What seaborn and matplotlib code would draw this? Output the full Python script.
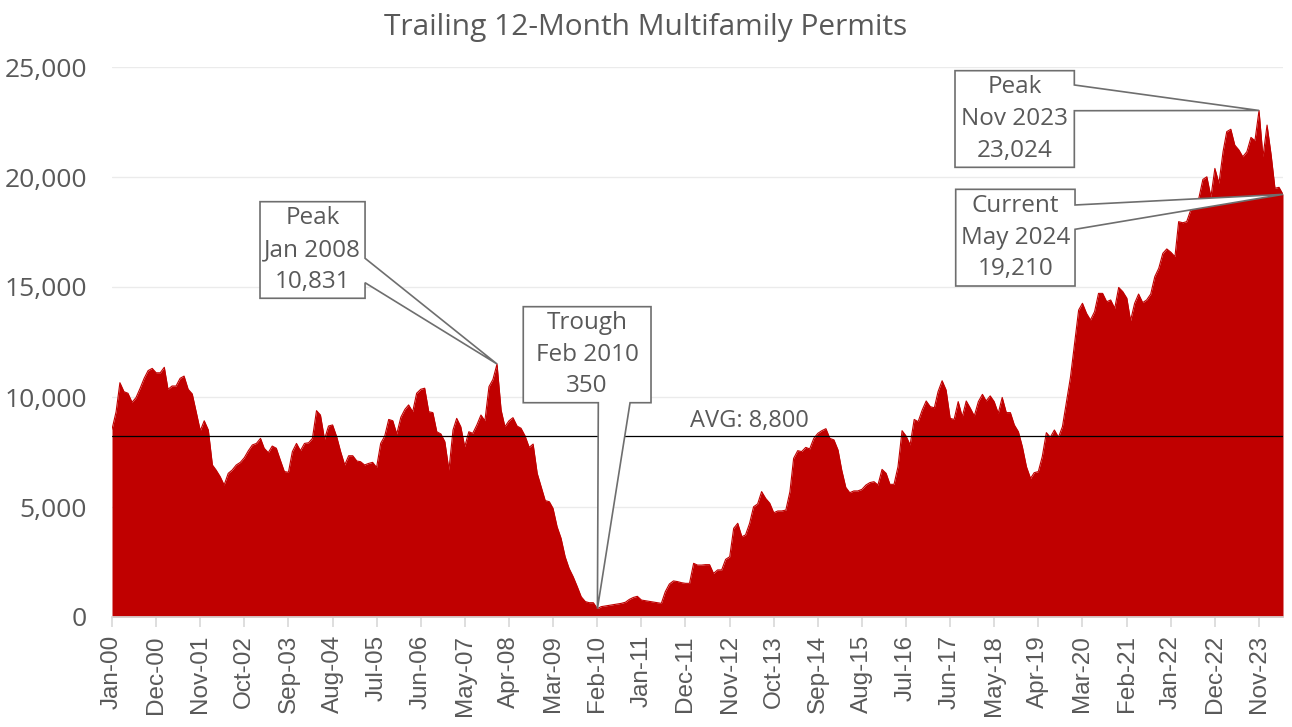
import pandas as pd
import numpy as np
import matplotlib.pyplot as plt
import matplotlib.dates as mdates
from matplotlib.patches import Polygon
import seaborn as sns

# monthly trailing 12-month multifamily permits, Jan 2000 - May 2024
permits = [
    8530, 9330, 10650, 10240, 10170, 9760, 9970, 10390, 10850, 11200, 11300, 11100,
    11100, 11350, 10350, 10500, 10500, 10850, 10950, 10350, 10140, 9330, 8470, 8920,
    8500, 6910, 6680, 6380, 6000, 6530, 6680, 6910, 7030, 7240, 7560, 7820,
    7890, 8120, 7670, 7470, 7770, 7670, 7140, 6610, 6580, 7520, 7890, 7560,
    7890, 7920, 8120, 9380, 9180, 8080, 8680, 8730, 8200, 7520, 6910, 7330,
    7330, 7090, 7060, 6910, 6980, 7030, 6800, 7890, 8230, 8980, 8920, 8320,
    9080, 9440, 9640, 9330, 10170, 10350, 10400, 9330, 9290, 8420, 8320, 7970,
    6680, 8500, 9030, 8650, 7740, 8420, 8350, 8730, 9180, 8920, 10470, 10800,
    11500, 9410, 8650, 8920, 9060, 8680, 8580, 8230, 7710, 7860, 6530, 5920,
    5290, 5240, 4940, 4100, 3580, 2740, 2210, 1830, 1380, 920, 700, 650,
    650, 380, 470, 500, 530, 560, 590, 620, 670, 800, 890, 940,
    770, 740, 710, 680, 650, 620, 1150, 1500, 1640, 1610, 1560, 1530,
    1530, 2440, 2360, 2360, 2380, 2380, 1980, 2140, 2140, 2620, 2740, 4030,
    4260, 3650, 3730, 4260, 5010, 5140, 5700, 5390, 5170, 4740, 4820, 4820,
    4860, 5700, 7210, 7560, 7520, 7710, 7640, 8120, 8350, 8470, 8560, 8120,
    8050, 7590, 6680, 5890, 5650, 5730, 5730, 5800, 6000, 6110, 6150, 6000,
    6710, 6530, 6030, 6030, 6830, 8470, 8230, 7820, 8980, 8880, 9410, 9820,
    9560, 9510, 10240, 10740, 10320, 9030, 8980, 9790, 9100, 9820, 9490, 9140,
    9790, 10120, 9820, 10050, 9790, 9260, 9980, 9290, 9290, 8730, 8420, 7740,
    6830, 6300, 6560, 6610, 7290, 8380, 8170, 8500, 8170, 8650, 9790, 10900,
    12440, 13950, 14260, 13800, 13500, 13880, 14710, 14710, 14330, 14410, 14030, 14980,
    14790, 14490, 13470, 14260, 14680, 14290, 14410, 14680, 15470, 15850, 16530, 16730,
    16580, 16380, 17970, 17920, 17970, 18500, 18650, 19030, 19890, 20010, 19100, 20390,
    19710, 21150, 22060, 22170, 21450, 21230, 20920, 21150, 21800, 21650, 23024, 20920,
    22360, 21000, 19490, 19530, 19210,
]
months = pd.date_range('2000-01-01', periods=len(permits), freq='MS')

avg_line = 8230          # where the average line is drawn
avg_label = 'AVG: 8,800'

# callouts: (month, label lines)
callouts = [
    ('2008-01-01', ['Peak', 'Jan 2008', '10,831']),
    ('2010-02-01', ['Trough', 'Feb 2010', '350']),
    ('2023-11-01', ['Peak', 'Nov 2023', '23,024']),
    ('2024-05-01', ['Current', 'May 2024', '19,210']),
]

df = pd.DataFrame({'month': months, 'permits': permits})

sns.set_theme(style='white')
plt.rcParams['font.family'] = ['Open Sans', 'DejaVu Sans']

TXT = '#595959'
RED = '#C00000'

fig = plt.figure(figsize=(12.92, 7.27), dpi=100)
ax = fig.add_axes([112/1292, 1-617/727, 1171/1292, 550/727])

ax.fill_between(df['month'], df['permits'], 0, color=RED, lw=0, zorder=2)
sns.lineplot(data=df, x='month', y='permits', color=RED, lw=0.8, ax=ax, zorder=2)

ax.axhline(avg_line, color='black', lw=0.9, zorder=3)
ax.text(0.544, (avg_line + 150) / 25000, avg_label, transform=ax.transAxes,
        ha='center', va='bottom', fontsize=17, color=TXT, zorder=3)

ax.set_ylim(0, 25000)
ax.set_xlim(months[0], months[-1])
ax.set_yticks(range(0, 25001, 5000))
ax.yaxis.set_major_formatter(plt.FuncFormatter(lambda v, p: f'{int(v):,}'))
ax.grid(axis='y', color='#EBEBEB', lw=1, zorder=0)
ax.set_axisbelow(True)

tick_months = months[::11]
ax.set_xticks(tick_months)
ax.set_xticklabels([d.strftime('%b-%y') for d in tick_months], rotation=90,
                   family=['Liberation Sans', 'DejaVu Sans'], fontsize=17.5, color=TXT)
ax.tick_params(axis='x', length=7, color='#D9D9D9', pad=6, bottom=True)
ax.tick_params(axis='y', length=0, pad=18, labelsize=19, labelcolor=TXT)

for s in ['top', 'right', 'left']:
    ax.spines[s].set_visible(False)
ax.spines['bottom'].set_color('#D9D9D9')

ax.set_xlabel('')
ax.set_ylabel('')
fig.text(0.5, 1 - 27/727, 'Trailing 12-Month Multifamily Permits', ha='center', va='center',
         fontsize=21.5, color=TXT)

# boxes in axes fractions: x0, x1, y_bottom, y_top, side, attach a, attach b
boxes = [
    (0.1264, 0.2161, 0.5795, 0.7551, 'right', 0.6522, 0.6078),
    (0.3512, 0.4603, 0.3896, 0.5642, 'bottom', 0.4153, 0.4424),
    (0.7199, 0.8218, 0.8176, 0.9933, 'right', 0.9673, 0.9205),
    (0.7205, 0.8224, 0.6018, 0.7776, 'right', 0.7491, 0.7049),
]

to_axes = ax.transData + ax.transAxes.inverted()
for (mon, lines), (x0, x1, yb, yt, side, a, b) in zip(callouts, boxes):
    i = list(months).index(pd.Timestamp(mon))
    tx, ty = to_axes.transform((mdates.date2num(months[i]), permits[i]))
    if side == 'right':
        pts = [(x0, yt), (x1, yt), (x1, a), (tx, ty), (x1, b), (x1, yb), (x0, yb)]
    else:
        pts = [(x0, yt), (x1, yt), (x1, yb), (b, yb), (tx, ty), (a, yb), (x0, yb)]
    poly = Polygon(pts, closed=True, transform=ax.transAxes, facecolor='white',
                   edgecolor='#6E6E6E', lw=1.2, zorder=5, clip_on=False)
    ax.add_patch(poly)
    ax.text((x0 + x1) / 2, (yb + yt) / 2, '\n'.join(lines), transform=ax.transAxes,
            ha='center', va='center', fontsize=17.5, color=TXT, linespacing=1.42, zorder=6)

plt.savefig('out.png', dpi=100)
